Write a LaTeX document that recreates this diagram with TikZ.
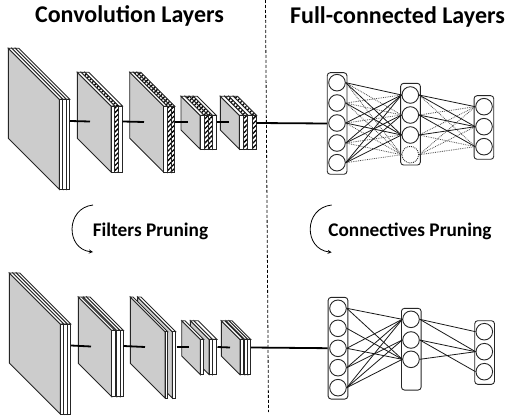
\documentclass[tikz,border=0pt]{standalone}
\usepackage{fontspec}
\setmainfont{Carlito}
\usetikzlibrary{patterns.meta}

% x y depth height thickness strip
\newcommand{\sheet}[6]{
    \draw[face] (#1,#2) -- ++(#3,#3) -- ++(0,#4) -- ++(-#3,-#3) -- cycle;
    \draw[#6] (#1,#2) -- ++(#5,0) -- ++(#3,#3) -- ++(-#5,0) -- cycle;
    \draw[#6] (#1+#3,#2+#3) rectangle ++(#5,#4);
}

\begin{document}
\begin{tikzpicture}[x=1pt,y=-1pt,
    face/.style={draw=black!85, fill=black!20, line width=0.9pt},
    plain/.style={draw=black!85, fill=white, line width=0.9pt},
    hatch/.style={draw=black!85, line width=0.9pt, preaction={fill=white}, pattern={Lines[angle=45,distance=3.4pt,line width=1.3pt]}},
    link/.style={line width=1.8pt},
    neuron/.style={circle, draw=black!85, line width=0.9pt, minimum size=16.6pt, inner sep=0pt},
    gone/.style={neuron, densely dotted},
    column/.style={draw=black!85, line width=0.9pt, rounded corners=3pt, minimum width=19.7pt, inner sep=0pt},
    edge/.style={line width=0.8pt, black!90},
    weak/.style={line width=0.8pt, densely dotted, black!70},
    turn/.style={line width=0.8pt, -stealth},
    title/.style={font=\bfseries\fontsize{24}{28}\selectfont, inner sep=0pt},
    caption/.style={font=\bfseries\fontsize{19.3}{23}\selectfont, inner sep=0pt}]

    \useasboundingbox (0,0) rectangle (507,420);

    \node[title] (convtitle) at (129.5,16) {Convolution Layers};
    \node[title] (fulltitle) at (397.5,17) {Full-connected Layers};
    \node[caption] (filterstext) at (150.5,231) {Filters Pruning};
    \node[caption] (conntext) at (410,231) {Connectives Pruning};

    \coordinate (divtop) at (265.5,0);
    \coordinate (divbottom) at (268.5,412);
    \draw[densely dashed, line width=0.8pt] (divtop) -- (divbottom);

    \coordinate (leftstart) at (93,205);
    \coordinate (leftend) at (93,252);
    \coordinate (rightstart) at (331.7,205);
    \coordinate (rightend) at (331.7,252.3);
    \draw[turn] (leftstart) .. controls (65.5,208) and (65.5,249) .. (leftend);
    \draw[turn] (rightstart) .. controls (303.5,208) and (303.5,249) .. (rightend);

    % upper convolution blocks
    \sheet{15.3}{48.3}{51}{90}{3.5}{plain}
    \sheet{11.8}{48.3}{51}{90}{3.5}{plain}
    \sheet{8.3}{48.3}{51}{90}{3.5}{plain}

    \sheet{84.9}{72.3}{33.7}{66}{3.8}{plain}
    \sheet{81.1}{72.3}{33.7}{66}{3.8}{hatch}
    \sheet{77.3}{72.3}{33.7}{66}{3.8}{plain}

    \sheet{137.1}{72.3}{34}{66}{3.67}{hatch}
    \sheet{133.4}{72.3}{34}{66}{3.67}{hatch}
    \sheet{129.7}{72.3}{34}{66}{3.67}{plain}

    \sheet{193.3}{96.3}{19}{33.7}{4.1}{plain}
    \sheet{189.2}{96.3}{19}{33.7}{4.1}{hatch}
    \sheet{185.1}{96.3}{19}{33.7}{4.1}{hatch}
    \sheet{181}{96.3}{19}{33.7}{4.1}{plain}

    \sheet{233.2}{96.3}{19}{33.7}{4.3}{hatch}
    \sheet{228.9}{96.3}{19}{33.7}{4.3}{plain}
    \sheet{224.6}{96.3}{19}{33.7}{4.3}{hatch}
    \sheet{220.3}{96.3}{19}{33.7}{4.3}{plain}

    % lower convolution blocks
    \sheet{16.3}{273}{51}{90}{3.5}{plain}
    \sheet{12.8}{273}{51}{90}{3.5}{plain}
    \sheet{9.3}{273}{51}{90}{3.5}{plain}

    \sheet{86.6}{297}{33.4}{66.3}{3.4}{plain}
    \sheet{83.2}{297}{33.4}{66.3}{3.4}{plain}
    \sheet{78.3}{297}{33.4}{66.3}{3.3}{plain}

    \sheet{137.6}{297}{34.7}{66.3}{3.3}{plain}
    \sheet{130.3}{297}{34.7}{66.3}{2.7}{plain}

    \sheet{193.7}{320.7}{18.6}{35.3}{4.4}{plain}
    \sheet{190.4}{320.7}{18.6}{35.3}{3.3}{plain}
    \sheet{181.7}{320.7}{18.6}{35.3}{3.3}{plain}

    \sheet{229}{320.7}{18.7}{35.3}{3}{plain}
    \sheet{226}{320.7}{18.7}{35.3}{3}{plain}
    \sheet{221.3}{320.7}{18.7}{35.3}{3.3}{plain}

    % upper network
    \node[column, minimum height=101.6pt] (boxA) at (337.1,123.5) {};
    \node[column, minimum height=81.7pt] (boxB) at (410.5,124.2) {};
    \node[column, minimum height=63.6pt] (boxC) at (483.9,127.5) {};

    \node[neuron] (A1) at (337,82.7) {};
    \node[neuron] (A2) at (337,103) {};
    \node[neuron] (A3) at (337,123) {};
    \node[neuron] (A4) at (337,143) {};
    \node[neuron] (A5) at (337,162.7) {};
    \node[neuron] (B1) at (410.3,95) {};
    \node[neuron] (B2) at (410.3,115) {};
    \node[neuron] (B3) at (410.3,135) {};
    \node[gone] (B4) at (410.3,154.7) {};
    \node[neuron] (C1) at (484,106.7) {};
    \node[neuron] (C2) at (484,126.7) {};
    \node[neuron] (C3) at (484,146.7) {};

    \draw[weak] (A1.east) -- (B2.west);
    \draw[weak] (A1.east) -- (B4.west);
    \draw[weak] (A2.east) -- (B1.west);
    \draw[weak] (A2.east) -- (B2.west);
    \draw[weak] (A2.east) -- (B4.west);
    \draw[weak] (A3.east) -- (B2.west);
    \draw[weak] (A3.east) -- (B4.west);
    \draw[weak] (A4.east) -- (B3.west);
    \draw[weak] (A4.east) -- (B4.west);
    \draw[weak] (A5.east) -- (B4.west);
    \draw[weak] (B1.east) -- (C3.west);
    \draw[weak] (B2.east) -- (C1.west);
    \draw[weak] (B3.east) -- (C1.west);
    \draw[weak] (B3.east) -- (C3.west);
    \draw[weak] (B4.east) -- (C1.west);
    \draw[weak] (B4.east) -- (C2.west);
    \draw[weak] (B4.east) -- (C3.west);

    \draw[edge] (A1.east) -- (B1.west);
    \draw[edge] (A1.east) -- (B3.west);
    \draw[edge] (A2.east) -- (B3.west);
    \draw[edge] (A3.east) -- (B1.west);
    \draw[edge] (A3.east) -- (B3.west);
    \draw[edge] (A4.east) -- (B1.west);
    \draw[edge] (A4.east) -- (B2.west);
    \draw[edge] (A5.east) -- (B1.west);
    \draw[edge] (A5.east) -- (B2.west);
    \draw[edge] (A5.east) -- (B3.west);
    \draw[edge] (B1.east) -- (C1.west);
    \draw[edge] (B1.east) -- (C2.west);
    \draw[edge] (B2.east) -- (C2.west);
    \draw[edge] (B2.east) -- (C3.west);
    \draw[edge] (B3.east) -- (C2.west);

    % lower network
    \node[column, minimum height=101.7pt] (boxD) at (338,348.2) {};
    \node[column, minimum height=81.7pt] (boxE) at (411.3,349.2) {};
    \node[column, minimum height=63.6pt] (boxF) at (484.6,352.5) {};

    \node[neuron] (D1) at (338,308.3) {};
    \node[neuron] (D2) at (338,328.3) {};
    \node[neuron] (D3) at (338,348.3) {};
    \node[neuron] (D4) at (338,367.7) {};
    \node[neuron] (D5) at (338,387.7) {};
    \node[neuron] (E1) at (411,319.3) {};
    \node[neuron] (E2) at (411,340) {};
    \node[neuron] (E3) at (411,359.3) {};
    \node[neuron] (F1) at (484.3,331.7) {};
    \node[neuron] (F2) at (484.3,351.7) {};
    \node[neuron] (F3) at (484.3,371.7) {};

    \draw[edge] (D1.east) -- (E1.west);
    \draw[edge] (D1.east) -- (E3.west);
    \draw[edge] (D2.east) -- (E3.west);
    \draw[edge] (D3.east) -- (E1.west);
    \draw[edge] (D3.east) -- (E3.west);
    \draw[edge] (D4.east) -- (E1.west);
    \draw[edge] (D4.east) -- (E2.west);
    \draw[edge] (D5.east) -- (E1.west);
    \draw[edge] (D5.east) -- (E2.west);
    \draw[edge] (D5.east) -- (E3.west);
    \draw[edge] (E1.east) -- (F1.west);
    \draw[edge] (E1.east) -- (F2.west);
    \draw[edge] (E2.east) -- (F2.west);
    \draw[edge] (E2.east) -- (F3.west);
    \draw[edge] (E3.east) -- (F2.west);

    % thick links between the blocks
    \coordinate (up1) at (70,121);
    \coordinate (up2) at (90,121.5);
    \coordinate (up3) at (122.5,121.5);
    \coordinate (up4) at (144,122);
    \coordinate (up5) at (175,122);
    \coordinate (up6) at (188,122);
    \coordinate (up7) at (216.5,122);
    \coordinate (up8) at (229,122);
    \coordinate (up9) at (256.5,123);
    \draw[link] (up1) -- (up2);
    \draw[link] (up3) -- (up4);
    \draw[link] (up5) -- (up6);
    \draw[link] (up7) -- (up8);
    \draw[link] (up9) -- (boxA.west);

    \coordinate (low1) at (71,345.5);
    \coordinate (low2) at (91,346.5);
    \coordinate (low3) at (123.5,346);
    \coordinate (low4) at (145,347);
    \coordinate (low5) at (176.5,347);
    \coordinate (low6) at (189,347);
    \coordinate (low7) at (217.5,347);
    \coordinate (low8) at (230,347.5);
    \coordinate (low9) at (251,347.5);
    \draw[link] (low1) -- (low2);
    \draw[link] (low3) -- (low4);
    \draw[link] (low5) -- (low6);
    \draw[link] (low7) -- (low8);
    \draw[link] (low9) -- (boxD.west);

\end{tikzpicture}
\end{document}
